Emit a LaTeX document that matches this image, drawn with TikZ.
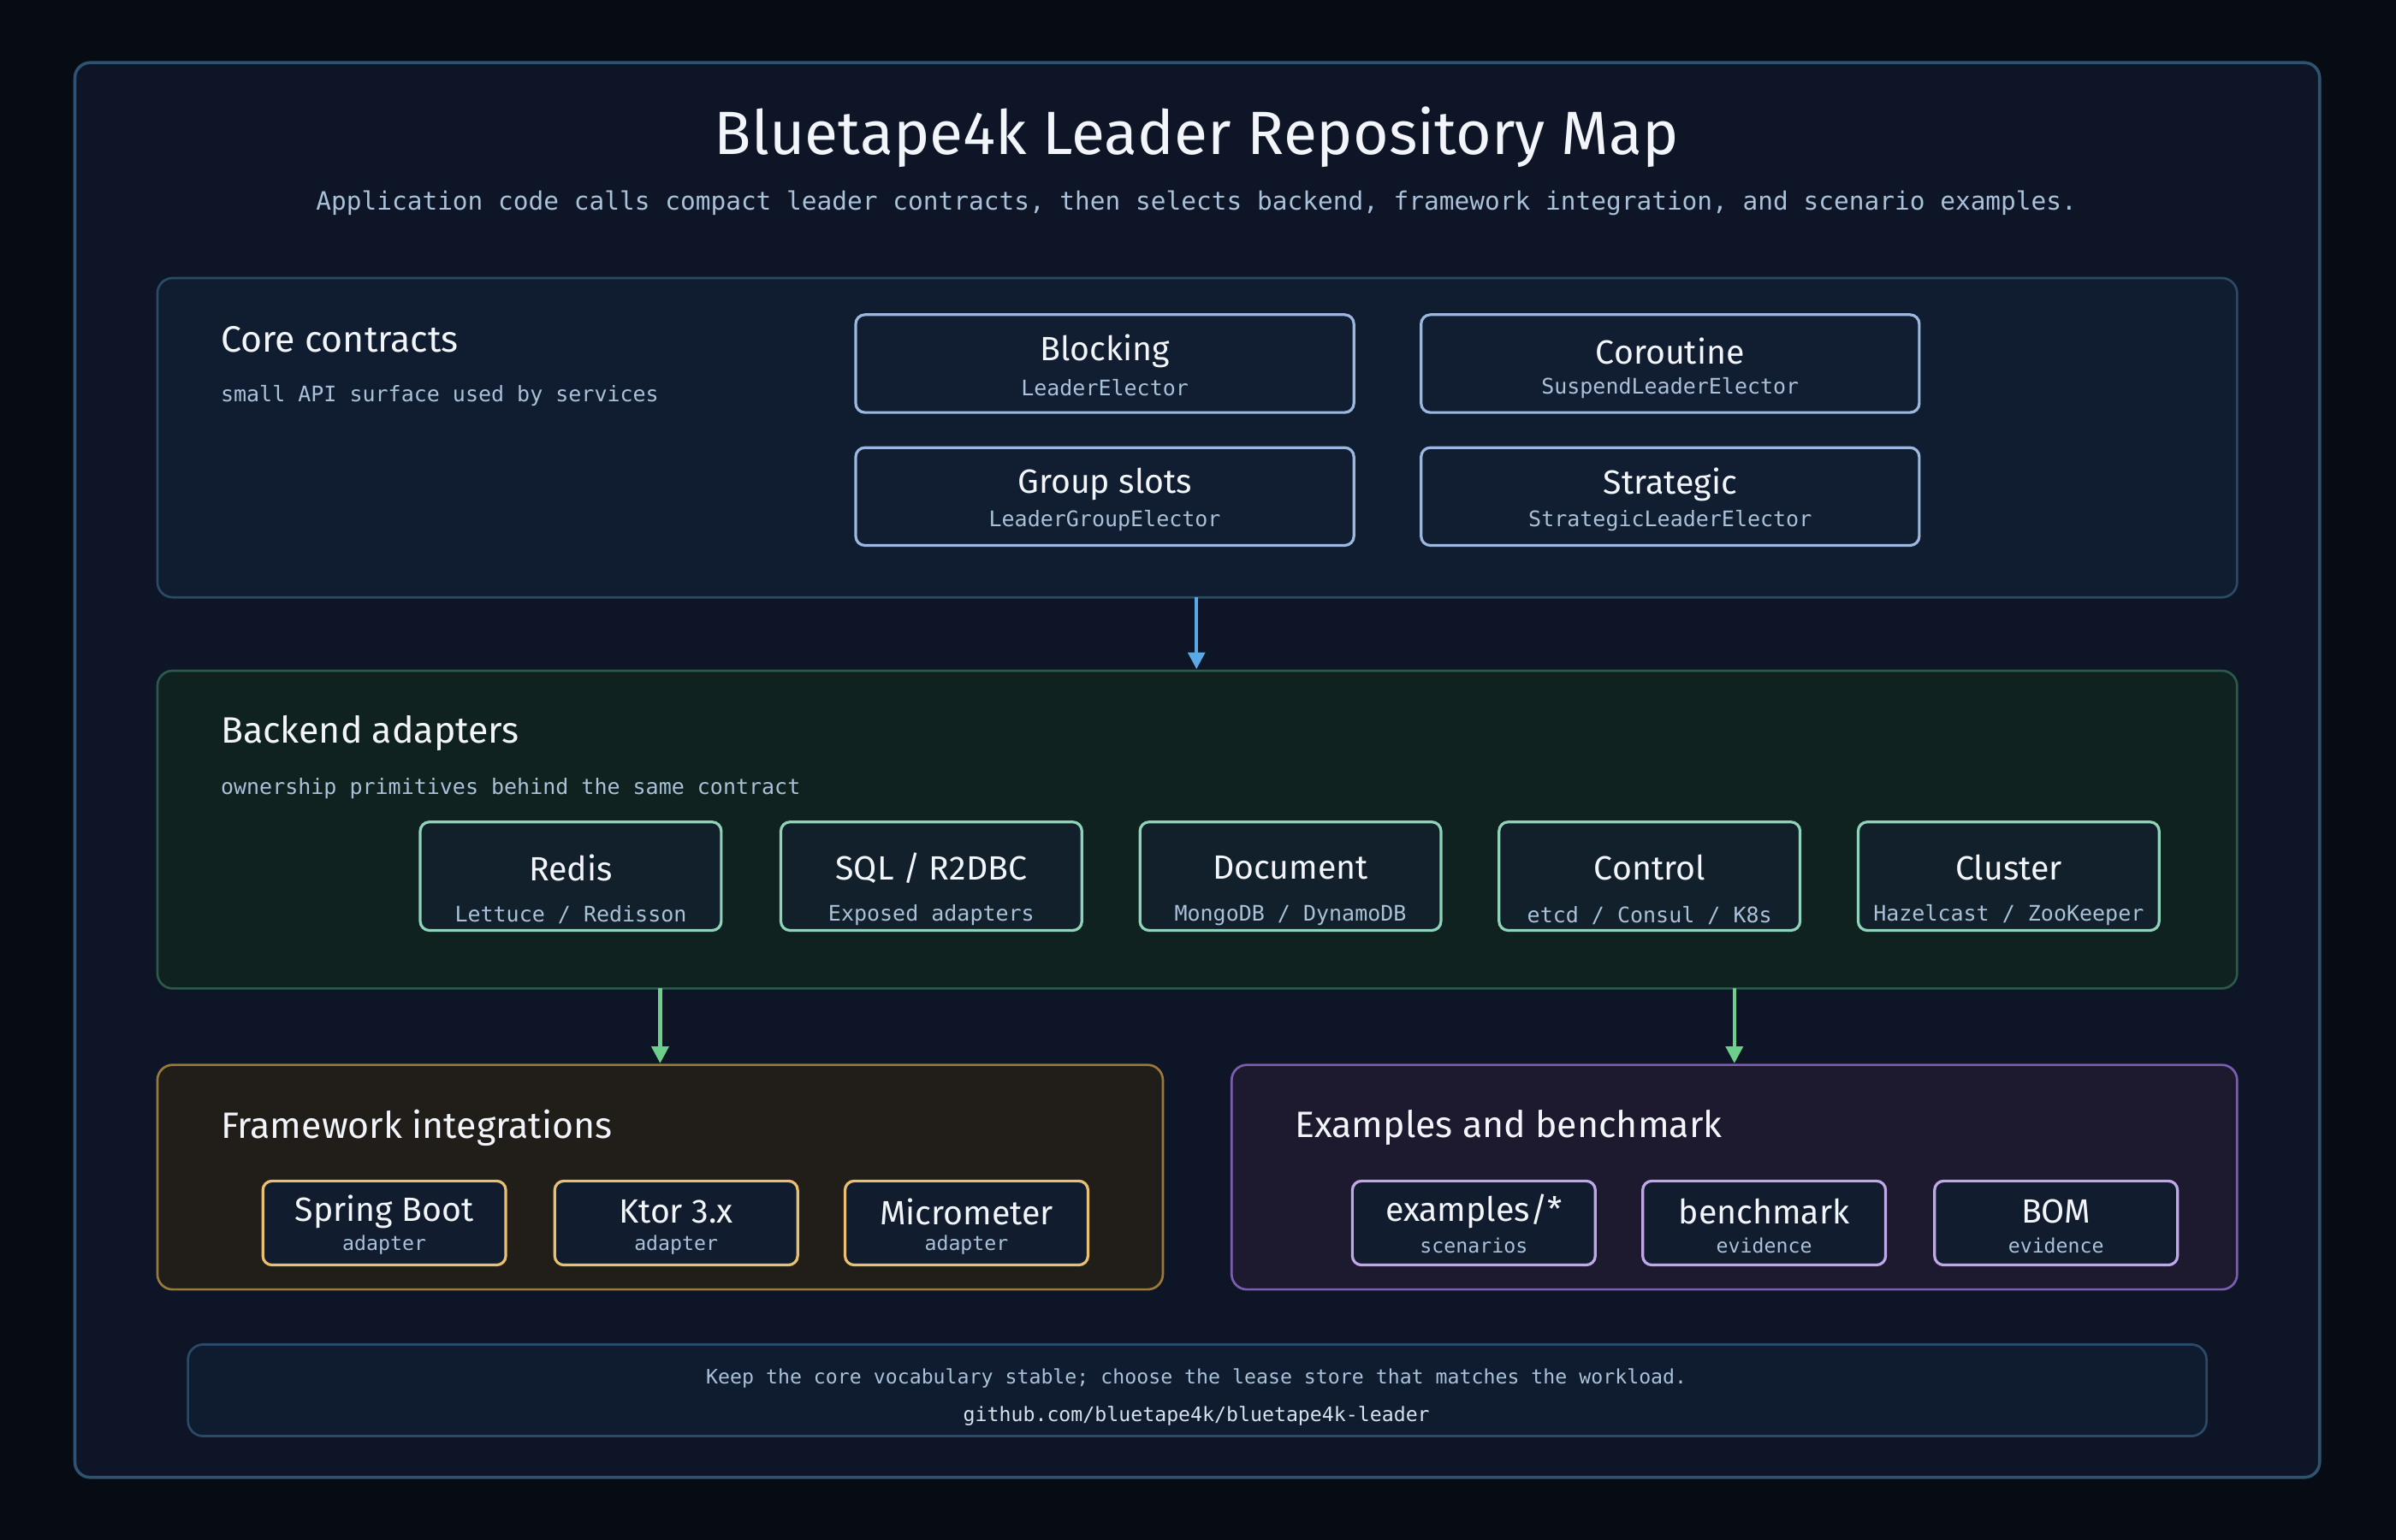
\documentclass[tikz,border=0pt]{standalone}
\usepackage{fontspec}
\setmainfont{Fira Sans}
\newfontfamily\mono{DejaVu Sans Mono}
\usetikzlibrary{arrows.meta}
\definecolor{bg}{HTML}{060B14}
\definecolor{frame}{HTML}{0D1526}
\definecolor{frameS}{HTML}{2E5370}
\definecolor{txt}{HTML}{F2F5FA}
\definecolor{sub}{HTML}{A9C1D9}
\definecolor{coreF}{HTML}{101C2F}\definecolor{coreS}{HTML}{2A4A66}
\definecolor{boxF}{HTML}{111D30}\definecolor{coreB}{HTML}{9AB8E0}
\definecolor{backF}{HTML}{10221F}\definecolor{backS}{HTML}{2A5A48}
\definecolor{backBF}{HTML}{11202A}\definecolor{backB}{HTML}{8FD3B8}
\definecolor{fwF}{HTML}{211D18}\definecolor{fwS}{HTML}{9A7A3A}
\definecolor{sboxF}{HTML}{111D2E}\definecolor{fwB}{HTML}{E8C070}
\definecolor{exF}{HTML}{1D1A30}\definecolor{exS}{HTML}{7A5EB0}\definecolor{exB}{HTML}{C0A8E8}
\definecolor{blueA}{HTML}{5AA9E6}\definecolor{greenA}{HTML}{6CCF8A}
\definecolor{footF}{HTML}{0F1C2F}\definecolor{footT}{HTML}{D8E2EE}
\begin{document}
\begin{tikzpicture}[x=1pt,y=-1pt,
  panel/.style={rounded corners=10pt,line width=1.5pt},
  box/.style={rounded corners=6pt,line width=1.8pt},
  ttl/.style={text=txt,font=\fontsize{22}{26}\selectfont},
  plabel/.style={text=txt,anchor=west,font=\fontsize{24}{28}\selectfont},
  psub/.style={text=sub,anchor=west,font=\mono\fontsize{14}{17}\selectfont},
  bsub/.style={text=sub,font=\mono\fontsize{14}{17}\selectfont},
  arr/.style={line width=2.4pt,-{Triangle[length=11pt,width=11pt]}}]
\fill[bg] (0,0) rectangle (1568,1008);
\useasboundingbox (0,0) rectangle (1568,1008);
\draw[panel,fill=frame,draw=frameS,line width=2pt] (49,41) rectangle (1518,967);
\node[text=txt,font=\fontsize{40}{46}\selectfont] (title) at (783,90) {Bluetape4k Leader Repository Map};
\node[text=sub,font=\mono\fontsize{16.5}{20}\selectfont] (subt) at (783,133) {Application code calls compact leader contracts, then selects backend, framework integration, and scenario examples.};
% core
\draw[panel,fill=coreF,draw=coreS] (103,182) rectangle (1464,391);
\node[plabel] (corel) at (141,222) {Core contracts};
\node[psub] (cores) at (141,259) {small API surface used by services};
\foreach \n/\x/\y/\t/\s in {b1/560/206/Blocking/LeaderElector, b2/930/206/Coroutine/SuspendLeaderElector, b3/560/293/Group slots/LeaderGroupElector, b4/930/293/Strategic/StrategicLeaderElector}{
  \draw[box,fill=boxF,draw=coreB] (\x,\y) rectangle ++(326,64);
  \node[ttl] (\n t) at (\x+163,\y+24) {\t};
  \node[bsub] (\n s) at (\x+163,\y+48) {\s};
}
% backend
\draw[panel,fill=backF,draw=backS] (103,439) rectangle (1464,647);
\node[plabel] (backl) at (141,480) {Backend adapters};
\node[psub] (backs) at (141,516) {ownership primitives behind the same contract};
\foreach \n/\x/\t/\s in {r1/275/Redis/{Lettuce / Redisson}, r2/511/{SQL / R2DBC}/Exposed adapters, r3/746/Document/{MongoDB / DynamoDB}, r4/981/Control/{etcd / Consul / K8s}, r5/1216/Cluster/{Hazelcast / ZooKeeper}}{
  \draw[box,fill=backBF,draw=backB] (\x,538) rectangle ++(197,71);
  \node[ttl] (\n t) at (\x+98.5,568) {\t};
  \node[bsub] (\n s) at (\x+98.5,599) {\s};
}
% framework
\draw[panel,fill=fwF,draw=fwS] (103,697) rectangle (761,844);
\node[plabel] (fwl) at (141,738) {Framework integrations};
\foreach \n/\x/\t in {f1/172/Spring Boot, f2/363/Ktor 3.x, f3/553/Micrometer}{
  \draw[box,fill=sboxF,draw=fwB] (\x,773) rectangle ++(159,55);
  \node[ttl] (\n t) at (\x+79.5,793) {\t};
  \node[bsub,font=\mono\fontsize{13}{15}\selectfont] (\n s) at (\x+79.5,815) {adapter};
}
% examples
\draw[panel,fill=exF,draw=exS] (806,697) rectangle (1464,844);
\node[plabel] (exl) at (844,738) {Examples and benchmark};
\foreach \n/\x/\t/\s in {e1/885/{examples/*}/scenarios, e2/1075/benchmark/evidence, e3/1266/BOM/evidence}{
  \draw[box,fill=sboxF,draw=exB] (\x,773) rectangle ++(159,55);
  \node[ttl] (\n t) at (\x+79.5,793) {\t};
  \node[bsub,font=\mono\fontsize{13}{15}\selectfont] (\n s) at (\x+79.5,815) {\s};
}
% arrows
\coordinate (a1) at (783,391); \coordinate (a1e) at (783,438);
\coordinate (a2) at (432,647); \coordinate (a2e) at (432,696);
\coordinate (a3) at (1135,647); \coordinate (a3e) at (1135,696);
\draw[arr,draw=blueA,fill=blueA] (a1) -- (a1e);
\draw[arr,draw=greenA,fill=greenA] (a2) -- (a2e);
\draw[arr,draw=greenA,fill=greenA] (a3) -- (a3e);
% footer
\draw[panel,fill=footF,draw=coreS] (123,880) rectangle (1444,940);
\node[bsub,font=\mono\fontsize{13}{16}\selectfont] (f1) at (783,902) {Keep the core vocabulary stable; choose the lease store that matches the workload.};
\node[text=footT,font=\mono\fontsize{13}{16}\selectfont] (f2) at (783,927) {github.com/bluetape4k/bluetape4k-leader};
\end{tikzpicture}
\end{document}
